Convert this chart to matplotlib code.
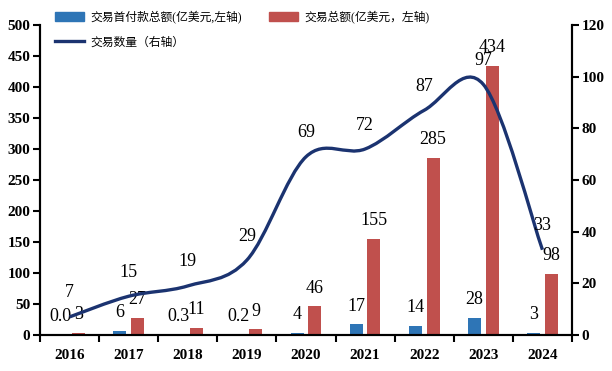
import matplotlib.pyplot as plt
from matplotlib.path import Path
from matplotlib.patches import PathPatch, Patch
from matplotlib.lines import Line2D
import numpy as np

years = ["2016", "2017", "2018", "2019", "2020", "2021", "2022", "2023", "2024"]
down_payment = [0.0, 6, 0.3, 0.2, 4, 17, 14, 28, 3]
down_labels = ["0.0", "6", "0.3", "0.2", "4", "17", "14", "28", "3"]
total_amount = [3, 27, 11, 9, 46, 155, 285, 434, 98]
deal_count = [7, 15, 19, 29, 69, 72, 87, 97, 33]

BLUE = "#2E75B6"
RED = "#C0504D"
NAVY = "#1B3370"
serif = ["Liberation Serif", "Noto Sans CJK SC"]

plt.rcParams["font.family"] = serif


def smooth_path(xs, ys):
    # excel-like smooth line: catmull-rom turned into cubic bezier segments
    pts = np.column_stack([xs, ys]).astype(float)
    n = len(pts)
    verts = [pts[0]]
    codes = [Path.MOVETO]
    for i in range(n - 1):
        p0 = pts[i - 1] if i > 0 else pts[i]
        p1 = pts[i]
        p2 = pts[i + 1]
        p3 = pts[i + 2] if i + 2 < n else pts[i + 1]
        verts += [p1 + (p2 - p0) / 6, p2 - (p3 - p1) / 6, p2]
        codes += [Path.CURVE4] * 3
    return Path(verts, codes)


fig = plt.figure(figsize=(6.12, 3.71), dpi=100)
ax = fig.add_axes([40 / 612, 36 / 371, 532 / 612, 310 / 371])
ax2 = ax.twinx()

x = np.arange(len(years))
w = 0.22
ax.bar(x - 0.15, down_payment, w, color=BLUE, zorder=2)
ax.bar(x + 0.15, total_amount, w, color=RED, zorder=2)

for i in range(len(years)):
    ax.annotate(down_labels[i], (x[i] - 0.15, down_payment[i]), xytext=(0, 10),
                textcoords="offset points", ha="center", va="baseline",
                fontsize=13, family="Liberation Serif")
    ax.annotate(str(total_amount[i]), (x[i] + 0.15, total_amount[i]), xytext=(0, 10),
                textcoords="offset points", ha="center", va="baseline",
                fontsize=13, family="Liberation Serif")

ax2.add_patch(PathPatch(smooth_path(x, deal_count), facecolor="none",
                        edgecolor=NAVY, lw=2.4, zorder=3))
for i in range(len(years)):
    ax2.annotate(str(deal_count[i]), (x[i], deal_count[i]), xytext=(0, 14),
                 textcoords="offset points", ha="center", va="baseline",
                 fontsize=13, family="Liberation Serif")

ax.set_xlim(-0.5, len(years) - 0.5)
ax.set_ylim(0, 500)
ax.set_yticks(range(0, 501, 50))
ax2.set_ylim(0, 120)
ax2.set_yticks(range(0, 121, 20))

ax.set_xticks(np.arange(-0.5, len(years), 1))
ax.set_xticklabels([])
ax.set_xticks(x, minor=True)
ax.set_xticklabels(years, minor=True)
ax.tick_params(axis="x", which="major", direction="out", length=5, width=1.5)
ax.tick_params(axis="x", which="minor", length=0, pad=10)
ax.tick_params(axis="y", direction="out", length=5, width=1.5, pad=2)
ax2.tick_params(axis="y", direction="out", length=5, width=1.5, pad=2)

for lab in ax.get_xticklabels(minor=True):
    lab.set_fontweight("bold")
    lab.set_fontsize(11)
    lab.set_family("Liberation Serif")
for lab in ax.get_yticklabels() + ax2.get_yticklabels():
    lab.set_fontweight("bold")
    lab.set_fontsize(11)
    lab.set_family("Liberation Serif")

for a in (ax, ax2):
    a.spines["top"].set_visible(False)
    for s in ("left", "right", "bottom"):
        a.spines[s].set_linewidth(1.5)

handles = [Patch(color=BLUE), Line2D([], [], color=NAVY, lw=2.4), Patch(color=RED)]
labels = ["交易首付款总额(亿美元,左轴)", "交易数量（右轴）", "交易总额(亿美元，左轴)"]
fig.legend(handles, labels, loc="upper left", bbox_to_anchor=(44 / 612, 1.0),
           ncol=2, frameon=False, handlelength=2.5, handleheight=0.7,
           labelspacing=1.1, columnspacing=2.3, handletextpad=0.5,
           prop={"family": serif, "size": 8.5})

fig.savefig("out.png", dpi=100)
